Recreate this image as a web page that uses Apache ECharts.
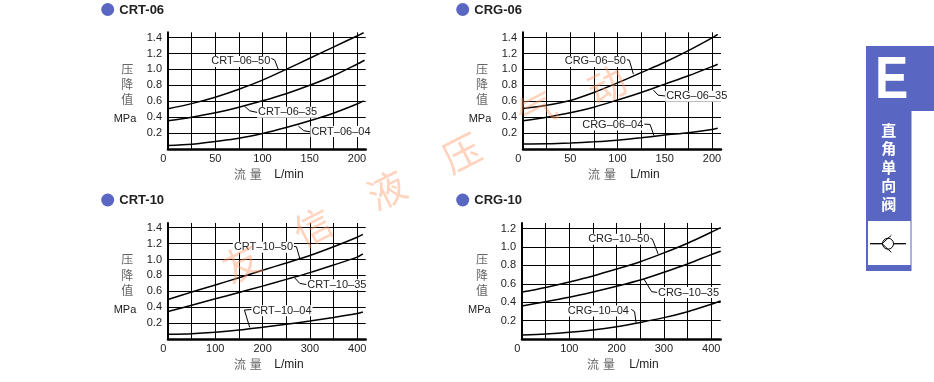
<!DOCTYPE html>
<html><head><meta charset="utf-8">
<style>html,body{margin:0;padding:0;background:#fff}#c{width:934px;height:382px}</style>
<script src="https://cdn.jsdelivr.net/npm/echarts@6/dist/echarts.min.js"></script>
</head><body><div id="c"></div>
<script>
const flow200 = [0,25,50,75,100,125,150,175,200];
const flow400 = [0,50,100,150,200,250,300,350,400];

const crt06x = [...flow200,207];
const crt06_50 = [.505,.57,.65,.75,.865,1.0,1.14,1.28,1.42,1.46];
const crt06x35 = [...flow200,208];
const crt06_35 = [.355,.40,.455,.525,.605,.695,.80,.92,1.065,1.115];
const crt06_04 = [.045,.06,.095,.135,.195,.27,.355,.45,.565,.605];

const crg06x = [...flow200,206];
const crg06_50 = [.51,.55,.61,.71,.83,.96,1.09,1.235,1.395,1.44];
const crg06_35 = [.355,.40,.455,.525,.615,.71,.815,.92,1.035,1.065];
const crg06_04 = [.063,.065,.075,.09,.11,.14,.175,.205,.245,.26];

const crt10x = [...flow400,412];
const crt10_50 = [.497,.59,.68,.77,.865,.955,1.05,1.16,1.28,1.315];
const crt10_35 = [.345,.425,.505,.585,.665,.75,.835,.93,1.03,1.07];
const crt10_04 = [.06,.067,.085,.112,.147,.185,.225,.27,.32,.34];

const crg10x = [...flow400,420];
const crg10_50 = [.51,.56,.62,.685,.76,.84,.935,1.04,1.16,1.21];
const crg10_35 = [.358,.405,.453,.51,.572,.64,.725,.815,.917,.953];
const crg10_04 = [.043,.054,.072,.098,.134,.18,.232,.297,.377,.413];

const titles = ['CRT-06','CRG-06','CRT-10','CRG-10'];
const curveNames = ['CRT–06–50','CRT–06–35','CRT–06–04','CRG–06–50','CRG–06–35','CRG–06–04','CRT–10–50','CRT–10–35','CRT–10–04','CRG–10–50','CRG–10–35','CRG–10–04'];
const labelPos = [[77,1.10],[126.6,.463],[183,.22],[76.5,1.10],[183.8,.664],[95,.30],[201.8,1.155],[357,.682],[241,.355],[204.5,1.083],[352,.504],[161.5,.304]];
const leaders = [
 [[108,1.148],[113,1.115],[117,.99]],[[81,.538],[86.4,.48],[96,.455]],[[138,.288],[143.6,.23],[152,.213]],
 [[108,1.127],[112.5,1.115],[116.8,.94]],[[138,.74],[143,.676],[152,.664]],[[126.6,.313],[134.4,.309],[138.6,.167]],
 [[266,1.167],[271.6,1.159],[278.7,1.012]],[[267,.774],[278.7,.699],[295.6,.682]],[[178,.372],[161.6,.364],[172.8,.146]],
 [[268.7,1.10],[275.7,1.083],[287.7,.924]],[[258,.649],[274,.514],[288.4,.504]],[[231,.322],[238,.297],[241,.178]]
];
const yTitleChars = ['压','降','值'];
const yUnit = 'MPa';
const xTitleChars = ['流','量'];
const xUnit = 'L/min';
const sideChars = ['直','角','单','向','阀'];
const watermark = ['友','信','液','压','气','动'];

const FONT = '"Liberation Sans",Arial,sans-serif';
const CJK = '"Noto Sans CJK SC",sans-serif';
const BLUE = '#5a67c2';
const panels = [
 {l:168,t:32.3,w:197.7,h:116.7,xmax:209.2,ymax:1.466,step:25,lab:50,xs:[crt06x,crt06x35,crt06x],c:[crt06_50,crt06_35,crt06_04],cx:107.7,cy:9.5,tx:119.3,ya:127.3,ua:125,xa:240,xb:255.7,xc:289,off:0},
 {l:523,t:32.3,w:198,h:116.7,xmax:209.5,ymax:1.466,step:25,lab:50,xs:[crg06x,crg06x,crg06x],c:[crg06_50,crg06_35,crg06_04],cx:462.7,cy:9.5,tx:474.3,ya:482,ua:480,xa:594,xb:610,xc:645,off:0},
 {l:168,t:223,w:197.7,h:116,xmax:418,ymax:1.459,step:50,lab:100,xs:[crt10x,crt10x,crt10x],c:[crt10_50,crt10_35,crt10_04],cx:107.7,cy:200,tx:119.3,ya:127.3,ua:125,xa:240,xb:255.7,xc:289,off:190.5},
 {l:522,t:223,w:198.7,h:116,xmax:420,ymax:1.26,step:50,lab:100,xs:[crg10x,crg10x,crg10x],c:[crg10_50,crg10_35,crg10_04],cx:462.7,cy:200,tx:474.3,ya:482,ua:479.3,xa:593,xb:609,xc:644,off:190.5}
];

const grid=[],xAxis=[],yAxis=[],series=[],graphic=[];
const txt=(x,y,s,font,size,fill,extra)=>({type:'text',x,y,silent:true,z:5,style:Object.assign({text:s,font:`${size}px ${font}`,fill,align:'center',verticalAlign:'middle'},extra||{})});

panels.forEach((p,i)=>{
  grid.push({left:p.l,top:p.t,width:p.w,height:p.h,containLabel:false});
  xAxis.push({gridIndex:i,type:'value',min:0,max:p.xmax,interval:p.step,
    axisLine:{show:true,onZero:false,lineStyle:{color:'#000',width:2.5}},axisTick:{show:false},
    splitLine:{show:true,showMinLine:false,showMaxLine:false,lineStyle:{color:'#000',width:1}},
    axisLabel:{show:true,showMinLabel:true,showMaxLabel:false,color:'#222',fontFamily:FONT,fontSize:11,margin:4,hideOverlap:false,
      formatter:v=>v===0?'0   ':(v%p.lab===0?String(v):'')}});
  yAxis.push({gridIndex:i,type:'value',min:0,max:p.ymax,interval:.2,
    axisLine:{show:true,onZero:false,lineStyle:{color:'#000',width:2}},axisTick:{show:false},
    splitLine:{show:true,showMinLine:false,showMaxLine:false,lineStyle:{color:'#000',width:1}},
    axisLabel:{show:true,showMinLabel:false,showMaxLabel:false,color:'#222',fontFamily:FONT,fontSize:11,margin:6,hideOverlap:false,
      formatter:v=>v.toFixed(1)}});
  p.c.forEach((vals,j)=>{
    const k=i*3+j;
    series.push({type:'line',xAxisIndex:i,yAxisIndex:i,smooth:.3,symbol:'none',silent:true,z:3,clip:false,
      name:curveNames[k],data:vals.map((v,n)=>[p.xs[j][n],v]),lineStyle:{color:'#000',width:1.5}});
    series.push({type:'line',xAxisIndex:i,yAxisIndex:i,symbol:'none',silent:true,z:4,
      data:leaders[k],lineStyle:{color:'#000',width:1}});
    series.push({type:'scatter',xAxisIndex:i,yAxisIndex:i,symbolSize:1,silent:true,z:5,
      itemStyle:{color:'transparent',opacity:1},data:[labelPos[k]],
      label:{show:true,position:'inside',opacity:1,formatter:curveNames[k],color:'#222',textBorderWidth:0,textBorderColor:'transparent',fontFamily:FONT,fontSize:11,backgroundColor:'#fff',padding:[0,1]}});
  });
  graphic.push({type:'circle',shape:{cx:p.cx,cy:p.cy,r:6.5},style:{fill:BLUE},silent:true});
  graphic.push(txt(p.tx,p.cy+.5,titles[i],FONT,13,'#222',{align:'left',font:`bold 13px ${FONT}`}));
  [69,84.5,99.5].forEach((y,n)=>graphic.push(txt(p.ya,y+p.off,yTitleChars[n],CJK,12,'#666')));
  graphic.push(txt(p.ua,119+p.off,yUnit,FONT,11,'#222'));
  graphic.push(txt(p.xa,174.3+p.off,xTitleChars[0],CJK,12,'#666'));
  graphic.push(txt(p.xb,174.3+p.off,xTitleChars[1],CJK,12,'#666'));
  graphic.push(txt(p.xc,174.3+p.off,xUnit,FONT,12,'#222'));
});

// side tab
graphic.push({type:'rect',shape:{x:866,y:46,width:68,height:65},style:{fill:BLUE},silent:true});
graphic.push({type:'rect',shape:{x:866,y:46,width:45.5,height:225},style:{fill:BLUE},silent:true});
graphic.push({type:'rect',shape:{x:868,y:221,width:42.5,height:44},style:{fill:'#fff'},silent:true});
graphic.push({type:'text',x:891.5,y:81.5,scaleX:.83,silent:true,style:{text:'E',font:`bold 60px ${FONT}`,fill:'#fff',align:'center',verticalAlign:'middle'}});
[130,148.5,167,185,204].forEach((y,n)=>graphic.push({type:'text',x:888.7,y,silent:true,style:{text:sideChars[n],font:`bold 15px ${CJK}`,fill:'#fff',align:'center',verticalAlign:'middle'}}));
graphic.push({type:'circle',shape:{cx:888,cy:243.7,r:5.5},style:{stroke:'#000',lineWidth:1,fill:'#fff'},silent:true});
graphic.push({type:'polyline',shape:{points:[[870,243.7],[882,243.7]]},style:{stroke:'#000',lineWidth:1.3,fill:null},silent:true});
graphic.push({type:'polyline',shape:{points:[[893.5,243.7],[906,243.7]]},style:{stroke:'#000',lineWidth:1.3,fill:null},silent:true});
graphic.push({type:'polyline',shape:{points:[[891.3,235.3],[882,243.7],[891.3,252.3]]},style:{stroke:'#000',lineWidth:1,fill:null},silent:true});

// watermark
[[241.7,263],[313,227],[386.7,190],[461.7,153],[536.7,110],[606.7,85]].forEach((c,n)=>graphic.push({type:'text',x:c[0],y:c[1],rotation:.47,silent:true,z:50,style:{text:watermark[n],font:`38px ${CJK}`,fill:'rgba(255,150,100,.42)',align:'center',verticalAlign:'middle'}}));

const chart=echarts.init(document.getElementById('c'),null,{renderer:'canvas'});
chart.setOption({animation:false,backgroundColor:'#fff',grid,xAxis,yAxis,series,graphic});
</script></body></html>
